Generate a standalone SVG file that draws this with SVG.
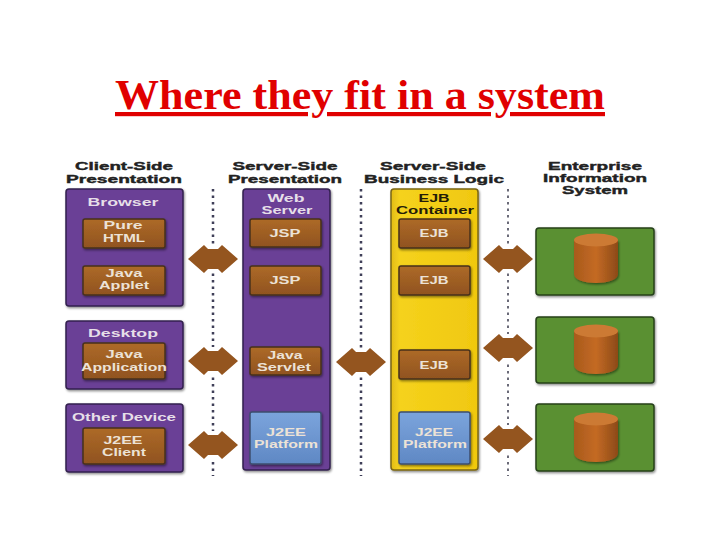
<svg xmlns="http://www.w3.org/2000/svg" width="720" height="540" viewBox="0 0 720 540">
<style>
text{text-anchor:middle;font-family:"Liberation Sans",Arial,sans-serif;font-weight:bold}
.h{font-size:11.5px;fill:#222;stroke:#222;stroke-width:.4}
.l{font-size:11px;fill:#e6dfe8}
.s{font-size:11px;fill:#ece2d6}
.k{fill:#241c08}
.p{fill:#6b4096;stroke:#33204f;stroke-width:1.5;filter:url(#sh)}
.y{fill:url(#yel);stroke:#7a6514;stroke-width:1.5;filter:url(#sh)}
.b{fill:url(#brn);stroke:#47301a;stroke-width:1.5;filter:url(#sh)}
.j{fill:url(#blu);stroke:#3c4e6e;stroke-width:1.5;filter:url(#sh)}
.g{fill:#5a9030;stroke:#26401a;stroke-width:1.5;filter:url(#sh)}
.d{stroke:#3f3f58;stroke-width:2.5;stroke-dasharray:2.5 4;fill:none}
.e{stroke:#6a6a78;stroke-width:2;stroke-dasharray:2.5 4;fill:none}
.a{fill:#94551f}
.c{fill:url(#cyl);filter:url(#sh)}
.t{fill:#cc7a34}
.n{fill:#fff}
</style>
<defs>
<linearGradient id="brn" x1="0" y1="0" x2="0" y2="1"><stop offset="0" stop-color="#ad6a28"/><stop offset="1" stop-color="#90531f"/></linearGradient>
<linearGradient id="blu" x1="0" y1="0" x2="0" y2="1"><stop offset="0" stop-color="#7ba4dc"/><stop offset="1" stop-color="#5f88c4"/></linearGradient>
<linearGradient id="yel" x1="0" y1="0" x2="1" y2="0"><stop offset="0" stop-color="#e2bc18"/><stop offset=".1" stop-color="#f5d21c"/><stop offset="1" stop-color="#f0c810"/></linearGradient>
<linearGradient id="cyl" x1="0" y1="0" x2="1" y2="0"><stop offset="0" stop-color="#a85a1c"/><stop offset=".5" stop-color="#c46a24"/><stop offset="1" stop-color="#8c4a18"/></linearGradient>
<filter id="sh" x="-10%" y="-10%" width="125%" height="125%"><feDropShadow dx="1" dy="1.5" stdDeviation="1" flood-color="#000" flood-opacity=".45"/></filter>
<g id="arrow"><path class="a" d="M-25 0 L-9 -14 L-5 -10 L5 -10 L9 -14 L25 0 L9 14 L5 10 L-5 10 L-9 14Z"/><rect class="n" x="-3" y="-14" width="6" height="4"/><rect class="n" x="-3" y="10" width="6" height="4"/></g>
<g id="cylinder"><path class="c" d="M-22 -18 V16 C-22 28 22 28 22 16 V-18Z"/><ellipse class="t" cx="0" cy="-18" rx="22" ry="6.5"/></g>
</defs>
<rect width="720" height="540" fill="#fff"/>
<g id="title"><text x="360" y="109" style="font-family:'Liberation Serif','Times New Roman',serif" font-size="42" fill="#e00000" text-decoration="underline" textLength="490" lengthAdjust="spacingAndGlyphs">Where they fit in a system</text></g>
<g id="headings">
<text class="h" x="124" y="170" textLength="98" lengthAdjust="spacingAndGlyphs">Client-Side</text><text class="h" x="124" y="183" textLength="116" lengthAdjust="spacingAndGlyphs">Presentation</text>
<text class="h" x="285" y="170" textLength="105" lengthAdjust="spacingAndGlyphs">Server-Side</text><text class="h" x="285" y="183" textLength="114" lengthAdjust="spacingAndGlyphs">Presentation</text>
<text class="h" x="433" y="170" textLength="106" lengthAdjust="spacingAndGlyphs">Server-Side</text><text class="h" x="434" y="183" textLength="140" lengthAdjust="spacingAndGlyphs">Business Logic</text>
<text class="h" x="595" y="170" textLength="94" lengthAdjust="spacingAndGlyphs">Enterprise</text><text class="h" x="595" y="182" textLength="104" lengthAdjust="spacingAndGlyphs">Information</text><text class="h" x="595" y="194" textLength="66" lengthAdjust="spacingAndGlyphs">System</text>
</g>
<g id="connectors">
<path class="d" d="M213 189V476M361 189V476"/><path class="e" d="M508 189V476"/>
<use href="#arrow" x="213" y="259"/><use href="#arrow" x="213" y="361"/><use href="#arrow" x="213" y="445"/>
<use href="#arrow" x="361" y="362"/>
<use href="#arrow" x="508" y="259"/><use href="#arrow" x="508" y="348"/><use href="#arrow" x="508" y="439"/>
</g>
<g id="browser"><rect class="p" x="66" y="189" width="117" height="117" rx="3"/><text class="l" x="123" y="206" textLength="71" lengthAdjust="spacingAndGlyphs">Browser</text></g>
<g id="pure-html"><rect class="b" x="83" y="219" width="82" height="29" rx="2"/><text class="s" x="123" y="229" textLength="39" lengthAdjust="spacingAndGlyphs">Pure</text><text class="s" x="124" y="242" textLength="42" lengthAdjust="spacingAndGlyphs">HTML</text></g>
<g id="java-applet"><rect class="b" x="83" y="266" width="82" height="29" rx="2"/><text class="s" x="124" y="277" textLength="37" lengthAdjust="spacingAndGlyphs">Java</text><text class="s" x="124" y="289" textLength="50" lengthAdjust="spacingAndGlyphs">Applet</text></g>
<g id="desktop"><rect class="p" x="66" y="321" width="117" height="68" rx="3"/><text class="l" x="123" y="337" textLength="70" lengthAdjust="spacingAndGlyphs">Desktop</text></g>
<g id="java-application"><rect class="b" x="83" y="343" width="82" height="36" rx="2"/><text class="s" x="124" y="358" textLength="37" lengthAdjust="spacingAndGlyphs">Java</text><text class="s" x="124" y="371" textLength="86" lengthAdjust="spacingAndGlyphs">Application</text></g>
<g id="other-device"><rect class="p" x="66" y="404" width="117" height="68" rx="3"/><text class="l" x="124" y="421" textLength="104" lengthAdjust="spacingAndGlyphs">Other Device</text></g>
<g id="j2ee-client"><rect class="b" x="83" y="428" width="82" height="36" rx="2"/><text class="s" x="123" y="444" textLength="39" lengthAdjust="spacingAndGlyphs">J2EE</text><text class="s" x="124" y="456" textLength="44" lengthAdjust="spacingAndGlyphs">Client</text></g>
<g id="web-server"><rect class="p" x="243" y="189" width="87" height="281" rx="3"/><text class="l" x="286" y="202" textLength="37" lengthAdjust="spacingAndGlyphs">Web</text><text class="l" x="287" y="214" textLength="51" lengthAdjust="spacingAndGlyphs">Server</text></g>
<g id="jsp-1"><rect class="b" x="250" y="219" width="71" height="28" rx="2"/><text class="s" x="285" y="237" textLength="31" lengthAdjust="spacingAndGlyphs">JSP</text></g>
<g id="jsp-2"><rect class="b" x="250" y="266" width="71" height="29" rx="2"/><text class="s" x="285" y="284" textLength="31" lengthAdjust="spacingAndGlyphs">JSP</text></g>
<g id="java-servlet"><rect class="b" x="250" y="347" width="71" height="28" rx="2"/><text class="s" x="285" y="359" textLength="35" lengthAdjust="spacingAndGlyphs">Java</text><text class="s" x="284" y="371" textLength="54" lengthAdjust="spacingAndGlyphs">Servlet</text></g>
<g id="platform-1"><rect class="j" x="250" y="412" width="71" height="52" rx="2"/><text class="s" x="286" y="436" textLength="40" lengthAdjust="spacingAndGlyphs">J2EE</text><text class="s" x="286" y="448" textLength="64" lengthAdjust="spacingAndGlyphs">Platform</text></g>
<g id="ejb-container"><rect class="y" x="391" y="189" width="87" height="281" rx="3"/><text class="l k" x="434" y="202" textLength="31" lengthAdjust="spacingAndGlyphs">EJB</text><text class="l k" x="435" y="214" textLength="78" lengthAdjust="spacingAndGlyphs">Container</text></g>
<g id="ejb-1"><rect class="b" x="399" y="219" width="71" height="29" rx="2"/><text class="s" x="434" y="237" textLength="29" lengthAdjust="spacingAndGlyphs">EJB</text></g>
<g id="ejb-2"><rect class="b" x="399" y="266" width="71" height="29" rx="2"/><text class="s" x="434" y="284" textLength="29" lengthAdjust="spacingAndGlyphs">EJB</text></g>
<g id="ejb-3"><rect class="b" x="399" y="350" width="71" height="29" rx="2"/><text class="s" x="434" y="369" textLength="29" lengthAdjust="spacingAndGlyphs">EJB</text></g>
<g id="platform-2"><rect class="j" x="399" y="412" width="71" height="52" rx="2"/><text class="s" x="434" y="436" textLength="38" lengthAdjust="spacingAndGlyphs">J2EE</text><text class="s" x="435" y="448" textLength="64" lengthAdjust="spacingAndGlyphs">Platform</text></g>
<g id="eis-1"><rect class="g" x="536" y="228" width="118" height="67" rx="3"/><use href="#cylinder" x="596" y="258"/></g>
<g id="eis-2"><rect class="g" x="536" y="317" width="118" height="66" rx="3"/><use href="#cylinder" x="596" y="349"/></g>
<g id="eis-3"><rect class="g" x="536" y="404" width="118" height="67" rx="3"/><use href="#cylinder" x="596" y="437"/></g>
</svg>
